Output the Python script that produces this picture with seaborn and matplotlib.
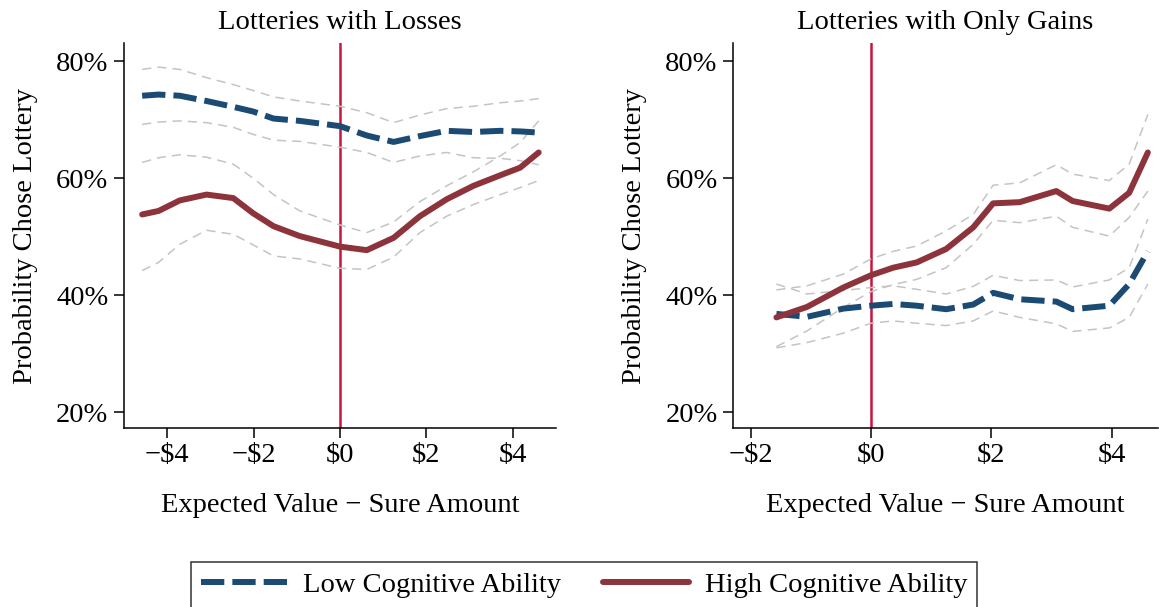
import numpy as np
import pandas as pd
import matplotlib
matplotlib.use("Agg")
import matplotlib.pyplot as plt
import seaborn as sns
from matplotlib.ticker import FuncFormatter
from matplotlib.lines import Line2D

sns.set_theme(style="white")
plt.rcParams['font.family'] = ['Liberation Serif', 'DejaVu Serif']
plt.rcParams['text.color'] = 'black'
plt.rcParams['axes.labelcolor'] = 'black'
plt.rcParams['xtick.color'] = 'black'
plt.rcParams['ytick.color'] = 'black'

# --- Lotteries with losses (left panel) ---
loss_x = [-4.58, -4.2, -3.71, -3.09, -2.47, -2.01, -1.54, -0.93, 0.0, 0.62,
          1.24, 1.85, 2.47, 3.09, 3.71, 4.17, 4.6]
loss_low = [74.1, 74.3, 74.1, 73.2, 72.2, 71.4, 70.2, 69.8, 68.9, 67.3,
            66.2, 67.2, 68.1, 67.9, 68.1, 68.0, 67.8]
loss_low_hi = [78.6, 79.0, 78.6, 77.2, 76.0, 75.0, 73.9, 73.2, 72.3, 71.2,
               69.5, 70.8, 71.9, 72.3, 72.9, 73.2, 73.6]
loss_low_lo = [69.2, 69.6, 69.8, 69.5, 68.7, 67.5, 66.5, 66.3, 65.3, 64.4,
               62.7, 63.8, 64.4, 63.5, 63.4, 63.0, 62.3]
loss_high = [53.8, 54.4, 56.2, 57.2, 56.6, 54.0, 51.8, 50.1, 48.3, 47.7,
             49.8, 53.5, 56.4, 58.7, 60.5, 61.8, 64.4]
loss_high_hi = [62.7, 63.5, 64.0, 63.6, 62.4, 60.0, 57.2, 54.4, 52.0, 50.7,
                52.5, 56.0, 58.7, 61.1, 63.8, 66.1, 69.8]
loss_high_lo = [44.2, 45.6, 48.7, 51.1, 50.4, 48.6, 46.7, 46.2, 44.6, 44.4,
                46.5, 50.7, 53.5, 55.5, 57.2, 58.4, 59.6]

# --- Lotteries with only gains (right panel) ---
gain_x = [-1.57, -1.06, -0.46, 0.0, 0.37, 0.76, 1.25, 1.7, 2.03, 2.47,
          3.08, 3.35, 3.96, 4.29, 4.6]
gain_low = [36.8, 36.3, 37.7, 38.2, 38.5, 38.2, 37.6, 38.4, 40.4, 39.3,
            38.9, 37.6, 38.2, 41.9, 47.5]
gain_low_hi = [41.9, 40.2, 40.8, 41.3, 41.6, 41.0, 40.2, 41.5, 43.4, 42.5,
               42.6, 41.4, 42.6, 44.7, 53.0]
gain_low_lo = [31.0, 31.9, 33.5, 35.2, 35.6, 35.2, 34.8, 35.6, 37.3, 36.2,
               35.1, 33.8, 34.4, 36.2, 41.9]
gain_high = [36.2, 38.0, 41.3, 43.4, 44.7, 45.6, 47.9, 51.6, 55.7, 55.9,
             57.8, 56.1, 54.8, 57.5, 64.4]
gain_high_hi = [40.9, 41.6, 43.6, 46.2, 47.5, 48.4, 51.0, 53.8, 58.8, 59.2,
                62.3, 60.7, 59.6, 62.4, 70.9]
gain_high_lo = [31.2, 33.9, 37.9, 40.6, 41.8, 42.7, 44.7, 48.7, 52.8, 52.4,
                53.5, 51.6, 50.1, 53.3, 57.8]

y_ticks = [20, 40, 60, 80]
BLUE = "#1b4a73"
RED = "#8c333b"
CI = "#c4c4c4"
VLINE = "#c8143c"
FS = 20.5
BLUE_DASH = (0, (3.9, 1.35))


def money(x, pos):
    if x < 0:
        return "\u2212$%d" % abs(x)
    return "$%d" % x


def draw_panel(ax, x, low, low_hi, low_lo, high, high_hi, high_lo, title, xticks, xlim):
    df = pd.DataFrame({"x": x, "low": low, "low_hi": low_hi, "low_lo": low_lo,
                       "high": high, "high_hi": high_hi, "high_lo": high_lo})
    # confidence bands drawn as thin dashed grey lines
    for col in ["low_hi", "low_lo", "high_hi", "high_lo"]:
        sns.lineplot(data=df, x="x", y=col, ax=ax, color=CI, linewidth=1.1,
                     linestyle=(0, (6, 4)))
    ax.axvline(0, color=VLINE, linewidth=1.8, zorder=1)
    sns.lineplot(data=df, x="x", y="low", ax=ax, color=BLUE, linewidth=4.3,
                 linestyle=BLUE_DASH, zorder=3)
    sns.lineplot(data=df, x="x", y="high", ax=ax, color=RED, linewidth=4.3, zorder=3)

    ax.set_xlim(*xlim)
    ax.set_ylim(17.3, 83.1)
    ax.set_xticks(xticks)
    ax.set_yticks(y_ticks)
    ax.xaxis.set_major_formatter(FuncFormatter(money))
    ax.yaxis.set_major_formatter(FuncFormatter(lambda v, p: "%d%%" % v))
    ax.set_title(title, fontsize=FS, pad=10)
    ax.set_xlabel("Expected Value \u2212 Sure Amount", fontsize=FS, labelpad=18)
    ax.set_ylabel("Probability Chose Lottery", fontsize=FS, labelpad=13)
    ax.tick_params(axis="both", labelsize=FS, length=7.2, width=1.1, direction="out",
                   color="black", left=True, bottom=True, pad=4)
    sns.despine(ax=ax)
    for s in ["left", "bottom"]:
        ax.spines[s].set_color("black")
        ax.spines[s].set_linewidth(1.1)


fig = plt.figure(figsize=(11.59, 6.07), dpi=100)
ax1 = fig.add_axes([0.107, 0.295, 0.3727, 0.634])
ax2 = fig.add_axes([0.6325, 0.295, 0.3667, 0.634])

draw_panel(ax1, loss_x, loss_low, loss_low_hi, loss_low_lo, loss_high, loss_high_hi,
           loss_high_lo, "Lotteries with Losses", [-4, -2, 0, 2, 4], (-5.0, 5.0))
draw_panel(ax2, gain_x, gain_low, gain_low_hi, gain_low_lo, gain_high, gain_high_hi,
           gain_high_lo, "Lotteries with Only Gains", [-2, 0, 2, 4], (-2.29, 4.77))

handles = [Line2D([], [], color=BLUE, linewidth=4.3, linestyle=BLUE_DASH),
           Line2D([], [], color=RED, linewidth=4.3)]
leg = fig.legend(handles, ["Low Cognitive Ability", "High Cognitive Ability"],
                 loc="center", bbox_to_anchor=(0.504, 0.036), ncol=2, fontsize=FS,
                 frameon=True, fancybox=False, handlelength=3.05, columnspacing=1.45,
                 borderpad=0.35, handletextpad=0.55)
leg.get_frame().set_edgecolor("black")
leg.get_frame().set_linewidth(1.1)

fig.savefig("out.png", dpi=100)
